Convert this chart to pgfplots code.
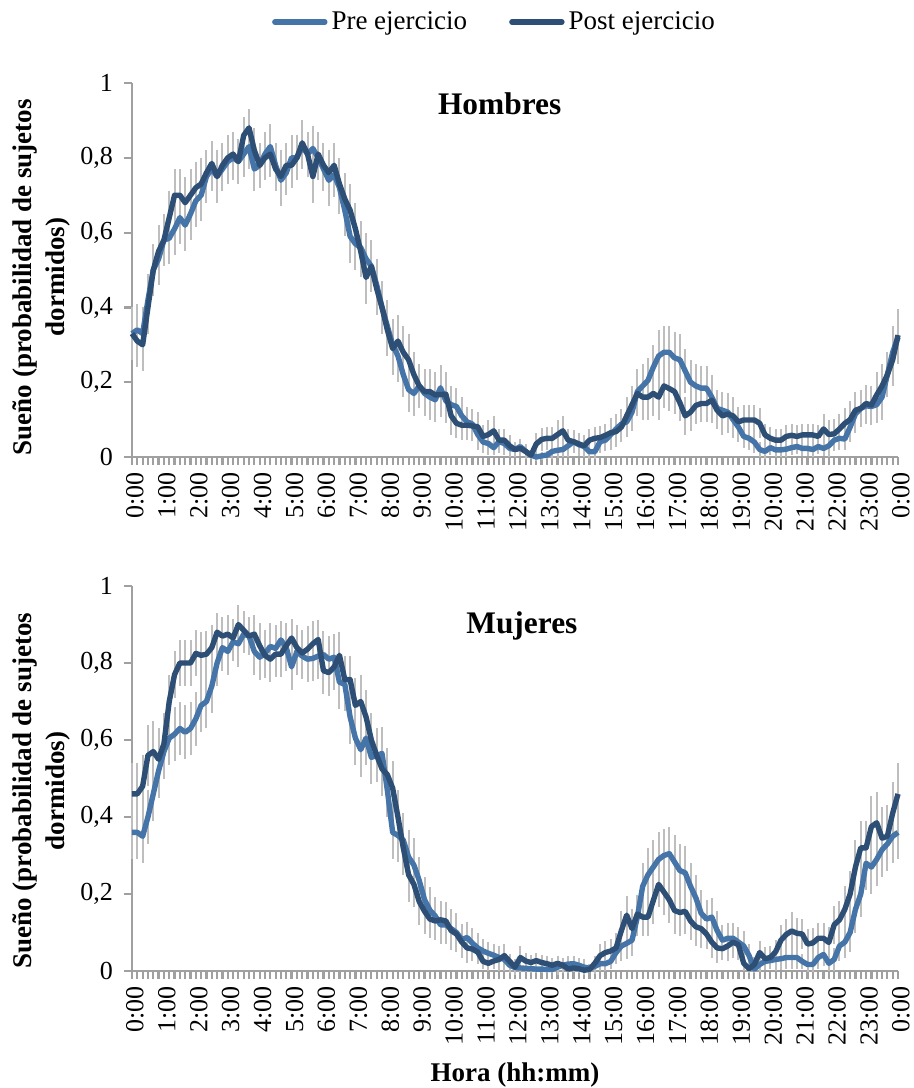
\documentclass[border=0pt]{standalone}
\usepackage{fontspec}
\setmainfont{Liberation Serif}
\usepackage{pgfplots}
\usepackage{pgfplotstable}
\pgfplotsset{compat=1.18}
\definecolor{pre}{RGB}{69,116,168}
\definecolor{post}{RGB}{45,79,118}
\definecolor{axgray}{RGB}{160,160,160}
\definecolor{errgray}{RGB}{190,190,190}

\pgfplotstableread{
t pre ep post eq
0 .33 .07 .33 .07
1 .34 .07 .31 .07
2 .33 .07 .30 .07
3 .42 .07 .40 .07
4 .50 .07 .50 .07
5 .53 .07 .55 .07
6 .58 .07 .58 .07
7 .585 .07 .64 .07
8 .61 .07 .70 .07
9 .64 .07 .70 .07
10 .62 .07 .68 .07
11 .65 .07 .70 .07
12 .685 .07 .72 .07
13 .70 .07 .73 .07
14 .75 .07 .76 .06
15 .77 .06 .785 .06
16 .75 .07 .75 .07
17 .77 .06 .78 .06
18 .79 .06 .80 .06
19 .80 .06 .81 .06
20 .79 .06 .79 .06
21 .81 .06 .86 .05
22 .83 .06 .88 .05
23 .77 .06 .82 .06
24 .78 .06 .78 .06
25 .81 .06 .80 .06
26 .83 .06 .81 .06
27 .78 .06 .77 .06
28 .74 .07 .75 .07
29 .76 .06 .78 .06
30 .80 .06 .78 .06
31 .80 .06 .80 .06
32 .83 .06 .84 .06
33 .81 .06 .81 .06
34 .825 .06 .75 .07
35 .80 .06 .81 .06
36 .77 .06 .78 .06
37 .74 .07 .76 .06
38 .755 .06 .78 .06
39 .72 .07 .73 .07
40 .66 .07 .69 .07
41 .59 .07 .66 .07
42 .57 .07 .61 .07
43 .56 .07 .55 .07
44 .53 .07 .48 .07
45 .51 .07 .51 .07
46 .46 .07 .45 .07
47 .40 .07 .40 .07
48 .35 .07 .34 .07
49 .30 .07 .29 .07
50 .27 .07 .31 .07
51 .22 .06 .28 .07
52 .18 .06 .26 .07
53 .17 .06 .22 .06
54 .19 .06 .19 .06
55 .17 .06 .175 .06
56 .16 .06 .175 .06
57 .153 .06 .166 .06
58 .185 .06 .167 .06
59 .15 .06 .168 .06
60 .14 .05 .11 .05
61 .135 .05 .09 .04
62 .11 .05 .085 .04
63 .094 .04 .085 .04
64 .088 .04 .083 .04
65 .06 .04 .081 .04
66 .04 .03 .055 .03
67 .036 .03 .06 .04
68 .025 .02 .07 .04
69 .041 .03 .045 .03
70 .036 .03 .045 .03
71 .023 .02 .03 .03
72 .02 .02 .02 .02
73 .028 .02 .023 .02
74 .015 .02 .015 .02
75 .005 .01 .005 .01
76 .0 .01 .035 .03
77 .003 .01 .047 .03
78 .005 .01 .05 .03
79 .015 .02 .05 .03
80 .018 .02 .06 .04
81 .02 .02 .07 .04
82 .03 .03 .045 .03
83 .041 .03 .041 .03
84 .033 .03 .035 .03
85 .028 .02 .03 .03
86 .014 .02 .045 .03
87 .014 .02 .05 .03
88 .041 .03 .052 .03
89 .045 .03 .058 .03
90 .06 .04 .065 .04
91 .075 .04 .068 .04
92 .088 .04 .08 .04
93 .094 .04 .11 .05
94 .12 .05 .14 .05
95 .175 .06 .17 .06
96 .19 .06 .16 .06
97 .205 .06 .16 .06
98 .24 .06 .17 .06
99 .27 .07 .16 .06
100 .28 .07 .19 .06
101 .28 .07 .183 .06
102 .265 .07 .175 .06
103 .26 .07 .145 .05
104 .23 .06 .11 .05
105 .20 .06 .12 .05
106 .19 .06 .138 .05
107 .184 .06 .143 .05
108 .184 .06 .143 .05
109 .16 .06 .152 .06
110 .13 .05 .125 .05
111 .125 .05 .11 .05
112 .12 .05 .115 .05
113 .10 .05 .11 .05
114 .08 .04 .094 .04
115 .055 .03 .099 .04
116 .05 .03 .099 .04
117 .04 .03 .099 .04
118 .02 .02 .09 .04
119 .015 .02 .059 .03
120 .025 .02 .05 .03
121 .019 .02 .045 .03
122 .019 .02 .045 .03
123 .021 .02 .055 .03
124 .025 .02 .058 .03
125 .028 .02 .055 .03
126 .023 .02 .059 .03
127 .023 .02 .059 .03
128 .02 .02 .059 .03
129 .028 .02 .055 .03
130 .023 .02 .075 .04
131 .03 .03 .06 .04
132 .045 .03 .062 .04
133 .05 .03 .075 .04
134 .048 .03 .09 .04
135 .08 .04 .10 .05
136 .115 .05 .125 .05
137 .13 .05 .13 .05
138 .137 .05 .143 .05
139 .135 .05 .139 .05
140 .14 .05 .166 .06
141 .16 .06 .19 .06
142 .22 .06 .22 .06
143 .28 .07 .26 .07
144 .32 .07 .326 .07
}\hombres

\pgfplotstableread{
t pre ep post eq
0 .36 .07 .46 .08
1 .36 .07 .46 .08
2 .35 .07 .48 .08
3 .40 .07 .56 .08
4 .46 .07 .57 .08
5 .52 .07 .55 .08
6 .57 .07 .59 .08
7 .605 .07 .70 .07
8 .615 .07 .77 .06
9 .63 .07 .80 .06
10 .62 .07 .80 .06
11 .63 .07 .80 .06
12 .655 .07 .825 .06
13 .69 .07 .82 .06
14 .70 .07 .823 .06
15 .74 .07 .84 .06
16 .80 .06 .88 .05
17 .84 .06 .87 .05
18 .83 .06 .875 .05
19 .855 .05 .865 .05
20 .85 .06 .90 .05
21 .875 .05 .885 .05
22 .87 .05 .87 .05
23 .83 .06 .875 .05
24 .815 .06 .845 .06
25 .825 .06 .82 .06
26 .843 .06 .81 .06
27 .838 .06 .823 .06
28 .86 .05 .823 .06
29 .84 .06 .845 .06
30 .79 .06 .865 .05
31 .83 .06 .84 .06
32 .818 .06 .826 .06
33 .81 .06 .836 .06
34 .812 .06 .85 .06
35 .818 .06 .861 .05
36 .822 .06 .78 .06
37 .81 .06 .775 .06
38 .815 .06 .79 .06
39 .75 .07 .82 .06
40 .745 .07 .757 .06
41 .66 .07 .757 .06
42 .605 .07 .69 .07
43 .575 .07 .70 .07
44 .605 .07 .66 .07
45 .555 .07 .60 .07
46 .56 .07 .56 .07
47 .565 .07 .525 .07
48 .47 .07 .51 .07
49 .36 .07 .475 .07
50 .352 .07 .40 .07
51 .34 .07 .32 .07
52 .296 .07 .25 .07
53 .275 .07 .225 .06
54 .235 .06 .18 .06
55 .185 .06 .155 .06
56 .158 .06 .135 .05
57 .143 .05 .13 .05
58 .12 .05 .133 .05
59 .12 .05 .13 .05
60 .11 .05 .105 .05
61 .10 .05 .096 .04
62 .082 .04 .075 .04
63 .087 .04 .06 .04
64 .072 .04 .057 .03
65 .06 .04 .049 .03
66 .052 .03 .025 .02
67 .046 .03 .02 .02
68 .041 .03 .026 .02
69 .035 .03 .03 .03
70 .030 .03 .04 .03
71 .015 .02 .025 .02
72 .009 .01 .01 .02
73 .008 .01 .035 .03
74 .007 .01 .026 .02
75 .006 .01 .022 .02
76 .005 .01 .027 .02
77 .005 .01 .022 .02
78 .004 .01 .019 .02
79 .004 .01 .015 .02
80 .01 .02 .02 .02
81 .015 .02 .015 .02
82 .018 .02 .005 .01
83 .019 .02 .008 .01
84 .015 .02 .006 .01
85 .01 .02 .002 .01
86 .007 .01 .004 .01
87 .012 .02 .02 .02
88 .019 .02 .04 .03
89 .019 .02 .048 .03
90 .025 .02 .052 .03
91 .048 .03 .06 .04
92 .065 .04 .105 .05
93 .072 .04 .145 .05
94 .08 .04 .11 .05
95 .14 .05 .148 .05
96 .22 .06 .14 .05
97 .25 .07 .14 .05
98 .27 .07 .183 .06
99 .29 .07 .225 .06
100 .30 .07 .205 .06
101 .305 .07 .185 .06
102 .283 .07 .157 .06
103 .261 .07 .152 .06
104 .255 .07 .155 .06
105 .22 .06 .13 .05
106 .19 .06 .115 .05
107 .15 .06 .11 .05
108 .135 .05 .096 .04
109 .14 .05 .075 .04
110 .105 .05 .06 .04
111 .08 .04 .058 .03
112 .085 .04 .065 .04
113 .085 .04 .075 .04
114 .075 .04 .068 .04
115 .065 .04 .02 .02
116 .04 .03 .006 .01
117 .005 .01 .017 .02
118 .017 .02 .048 .03
119 .025 .02 .032 .03
120 .027 .02 .035 .03
121 .030 .03 .05 .03
122 .032 .03 .08 .04
123 .035 .03 .095 .04
124 .035 .03 .104 .05
125 .035 .03 .098 .04
126 .025 .02 .096 .04
127 .017 .02 .07 .04
128 .017 .02 .073 .04
129 .035 .03 .085 .04
130 .043 .03 .085 .04
131 .02 .02 .074 .04
132 .03 .03 .12 .05
133 .065 .04 .133 .05
134 .075 .04 .16 .06
135 .10 .05 .20 .06
136 .16 .06 .27 .07
137 .20 .06 .32 .07
138 .28 .07 .32 .07
139 .27 .07 .375 .08
140 .29 .07 .385 .08
141 .315 .07 .345 .08
142 .33 .07 .35 .08
143 .35 .07 .41 .08
144 .36 .07 .46 .08
}\mujeres

\pgfplotsset{
  panel/.style={
    scale only axis, width=383pt,
    xmin=0, xmax=144, ymin=0, ymax=1,
    axis x line*=bottom, axis y line*=left,
    axis line style={draw=axgray, line width=1pt},
    tick style={draw=axgray, line width=1.1pt},
    tick align=outside,
    major tick length=4pt, minor tick length=4pt,
    xtick={0,6,...,144},
    minor x tick num=5,
    xticklabels={0:00,1:00,2:00,3:00,4:00,5:00,6:00,7:00,8:00,9:00,10:00,11:00,12:00,13:00,14:00,15:00,16:00,17:00,18:00,19:00,20:00,21:00,22:00,23:00,0:00},
    ytick={0,0.2,0.4,0.6,0.8,1},
    yticklabels={0,{0,2},{0,4},{0,6},{0,8},1},
    tick label style={font=\fontsize{13}{13}\selectfont},
    xticklabel style={xshift=1.5pt, rotate=90, anchor=east},
    yticklabel style={xshift=-2pt},
    ylabel={Sueño (probabilidad de sujetos\\dormidos)},
    ylabel style={font=\fontsize{13.5}{16.5}\selectfont\bfseries, align=center, anchor=center},
    clip=false,
  },
  errs/.style={forget plot, draw=none, mark=none, error bars/.cd, y dir=both, y explicit, error mark=none, error bar style={draw=errgray, line width=1pt, solid}},
  preline/.style={color=pre, line width=2.7pt, mark=none, line join=round},
  postline/.style={color=post, line width=2.7pt, mark=none, line join=round},
}

\begin{document}
\begin{tikzpicture}
\useasboundingbox (-66pt,-315.5pt) rectangle (391pt,228.5pt);
\begin{axis}[panel, height=187pt, at={(0pt,0pt)}, anchor=south west,
  ylabel style={at={(axis description cs:-0.1188,0.481)}},
  legend style={at={(axis description cs:0.4745,1.163)}, anchor=center, draw=none, fill=none, legend columns=2, font=\fontsize{13.5}{14}\selectfont, /tikz/every even column/.append style={column sep=19pt}},
  legend image code/.code={\draw[#1, line cap=round] (0pt,0pt) -- (25pt,0pt);},
]
\addplot[errs] table[x=t, y=pre, y error=ep] {\hombres};
\addplot[errs] table[x=t, y=post, y error=eq] {\hombres};
\addplot[preline] table[x=t, y=pre] {\hombres};
\addlegendentry{Pre ejercicio}
\addplot[postline] table[x=t, y=post] {\hombres};
\addlegendentry{Post ejercicio}
\node[font=\fontsize{15.7}{16}\selectfont\bfseries] at (rel axis cs:0.48,0.944) {Hombres};
\end{axis}
\begin{axis}[panel, height=192.5pt, at={(0pt,-257pt)}, anchor=south west,
  ylabel style={at={(axis description cs:-0.1188,0.468)}},
  xlabel={Hora (hh:mm)},
  xlabel style={font=\fontsize{13.5}{14}\selectfont\bfseries, at={(axis description cs:0.5,0)}, anchor=center, yshift=-52pt},
]
\addplot[errs] table[x=t, y=pre, y error=ep] {\mujeres};
\addplot[errs] table[x=t, y=post, y error=eq] {\mujeres};
\addplot[preline] table[x=t, y=pre] {\mujeres};
\addplot[postline] table[x=t, y=post] {\mujeres};
\node[font=\fontsize{15.7}{16}\selectfont\bfseries] at (rel axis cs:0.509,0.896) {Mujeres};
\end{axis}
\end{tikzpicture}
\end{document}
